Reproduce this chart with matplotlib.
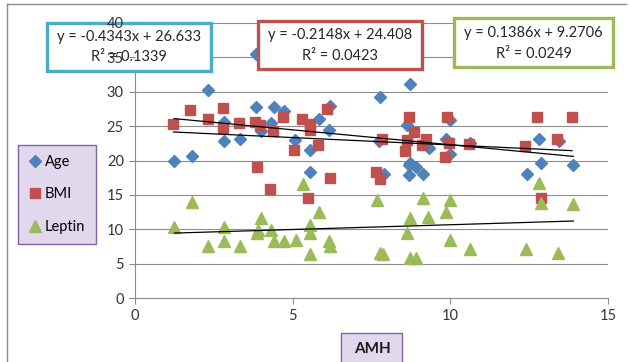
import numpy as np
import matplotlib
matplotlib.use("Agg")
from matplotlib import pyplot as plt
from matplotlib.patches import Rectangle
from matplotlib.lines import Line2D

plt.rcParams['font.family'] = ['Lato', 'DejaVu Sans']

# Age
age_x = [1.24, 1.8, 2.33, 2.83, 2.83, 3.33, 3.83, 3.83, 4.0, 4.32, 4.42, 4.73, 5.08, 5.56, 5.56,
         5.85, 6.14, 6.19, 7.73, 7.76, 7.89, 8.62, 8.68, 8.68, 8.71, 8.71, 8.92, 9.13, 9.31, 9.87,
         10.0, 10.0, 10.63, 12.43, 12.8, 12.86, 13.44, 13.9]
age_y = [19.9, 20.7, 30.2, 25.6, 22.9, 23.1, 27.8, 35.5, 24.3, 25.5, 27.8, 27.2, 23.0, 18.3, 21.5,
         26.0, 24.4, 28.0, 22.9, 29.3, 18.1, 25.2, 19.3, 17.9, 31.1, 19.6, 19.1, 18.1, 21.8, 23.2,
         25.9, 21.0, 22.5, 18.0, 23.1, 19.6, 22.9, 19.4]
# BMI
bmi_x = [1.22, 1.75, 2.3, 2.8, 2.8, 3.3, 3.79, 3.88, 3.97, 4.29, 4.37, 4.68, 5.03, 5.29, 5.5,
         5.56, 5.56, 5.79, 6.08, 6.17, 7.65, 7.76, 7.83, 8.57, 8.64, 8.68, 8.86, 9.1, 9.24, 9.84,
         9.9, 9.95, 10.58, 12.38, 12.75, 12.86, 13.37, 13.86]
bmi_y = [25.3, 27.4, 26.1, 27.6, 24.7, 25.5, 25.6, 19.1, 25.2, 15.8, 24.3, 26.4, 21.5, 26.0, 14.5,
         25.3, 24.5, 22.3, 27.5, 17.4, 18.4, 17.3, 23.1, 21.4, 23.0, 26.3, 24.2, 22.3, 23.1, 20.5,
         26.3, 22.5, 22.4, 22.1, 26.3, 14.5, 23.1, 26.3]
# Leptin
lep_x = [1.25, 1.8, 2.33, 2.83, 2.83, 3.33, 3.86, 3.91, 4.0, 4.32, 4.42, 4.73, 5.11, 5.32, 5.56,
         5.56, 5.56, 5.85, 6.14, 6.19, 7.69, 7.78, 7.86, 8.62, 8.71, 8.71, 8.92, 9.13, 9.28, 9.87,
         9.98, 10.0, 10.63, 12.41, 12.8, 12.88, 13.41, 13.9]
lep_y = [10.4, 13.9, 7.6, 10.4, 8.3, 7.6, 9.4, 9.9, 11.7, 9.9, 8.3, 8.3, 8.4, 16.6, 6.4,
         10.6, 9.4, 12.5, 8.3, 7.6, 14.2, 6.5, 6.4, 9.4, 11.7, 5.8, 5.8, 14.5, 11.8, 12.5,
         14.2, 8.4, 7.1, 7.1, 16.7, 13.8, 6.6, 13.7]

# trendline coefficients shown on the chart
fits = {'Age': (-0.4343, 26.633, 0.1339),
        'BMI': (-0.2148, 24.408, 0.0423),
        'Leptin': (0.1386, 9.2706, 0.0249)}

W, H = 629, 362
fig = plt.figure(figsize=(W / 100, H / 100), dpi=100)


def fx(px):
    return px / W


def fy(py):
    return 1 - py / H


ax = fig.add_axes([fx(135), fy(298), fx(608) - fx(135), fy(23) - fy(298)])
ax.set_xlim(0, 15)
ax.set_ylim(0, 40)
ax.set_xticks([0, 5, 10, 15])
ax.set_yticks(range(0, 41, 5))
ax.set_axisbelow(False)
for v in range(5, 41, 5):
    ax.axhline(v, color='#8c8c8c', lw=0.8, zorder=0.8)
for s in ['top', 'right']:
    ax.spines[s].set_visible(False)
for s in ['left', 'bottom']:
    ax.spines[s].set_color('#8c8c8c')
    ax.spines[s].set_linewidth(0.8)
ax.spines['left'].set_zorder(1)
ax.tick_params(direction='out', length=4, width=0.8, color='#8c8c8c',
               labelsize=10.5, labelcolor='#333333', pad=4)

ax.plot(age_x, age_y, 'D', color='#4f81bd', ms=6.5, ls='none', zorder=1.9, label='Age')
ax.plot(bmi_x, bmi_y, 's', color='#c0504d', ms=7.5, ls='none', zorder=1.9, label='BMI')
ax.plot(lep_x, lep_y, '^', color='#9bbb59', ms=8.5, ls='none', zorder=1.9, label='Leptin')

for xs, key in [(age_x, 'Age'), (bmi_x, 'BMI'), (lep_x, 'Leptin')]:
    a, b, r2 = fits[key]
    xx = np.array([min(xs), max(xs)])
    ax.plot(xx, a * xx + b, color='black', lw=0.9, zorder=1.95)

# equation boxes
boxes = [((47, 23, 211, 71), '#4bacc6', 'Age', (37, 57)),
         ((258, 21, 422, 69), '#c0504d', 'BMI', (35, 56)),
         ((454, 18, 613, 67), '#9bbb59', 'Leptin', (33, 54))]
for (x0, y0, x1, y1), col, key, (l1, l2) in boxes:
    a, b, r2 = fits[key]
    ax.add_patch(Rectangle((fx(x0), fy(y1)), fx(x1) - fx(x0), fy(y0) - fy(y1),
                           transform=fig.transFigure, facecolor='white', edgecolor=col,
                           lw=2.4, clip_on=False, zorder=2))
    sign = '+' if b >= 0 else '-'
    ax.text(fx((x0 + x1) / 2), fy(l1), 'y = {0:.4f}x {1} {2:g}'.format(a, sign, abs(b)),
            transform=fig.transFigure, ha='center', va='center', fontsize=10.5,
            color='#262626', zorder=2.1, clip_on=False)
    ax.text(fx((x0 + x1) / 2), fy(l2), 'R² = {0:.4f}'.format(r2),
            transform=fig.transFigure, ha='center', va='center', fontsize=10.5,
            color='#262626', zorder=2.1, clip_on=False)

# x-axis title box
ax.add_patch(Rectangle((fx(341), fy(366)), fx(402) - fx(341), fy(333) - fy(366),
                       transform=fig.transFigure, facecolor='#e2d8ee', edgecolor='#8064a2',
                       lw=1.0, clip_on=False, zorder=2))
ax.text(fx(372), fy(349), 'AMH', transform=fig.transFigure, ha='center', va='center',
        fontsize=11, fontweight='bold', color='#1a1a1a', zorder=2.1, clip_on=False)

leg = ax.legend(loc='upper left', bbox_to_anchor=(fx(18), fy(145)), bbox_transform=fig.transFigure,
                borderaxespad=0, frameon=True, fancybox=False, facecolor='#e2d8ee',
                edgecolor='#8064a2', framealpha=1, fontsize=10.5, labelspacing=1.25,
                handlelength=0.9, handletextpad=0.25, borderpad=0.7, markerscale=1.0)
leg.get_frame().set_linewidth(1.0)
leg.set_zorder(3)

# outer chart border
fig.add_artist(Line2D([fx(7), fx(626)], [fy(4), fy(4)], color='#8c8c8c', lw=1.0))
fig.add_artist(Line2D([fx(7), fx(7)], [fy(4), fy(362)], color='#8c8c8c', lw=1.0))

fig.savefig('out.png', dpi=100)
